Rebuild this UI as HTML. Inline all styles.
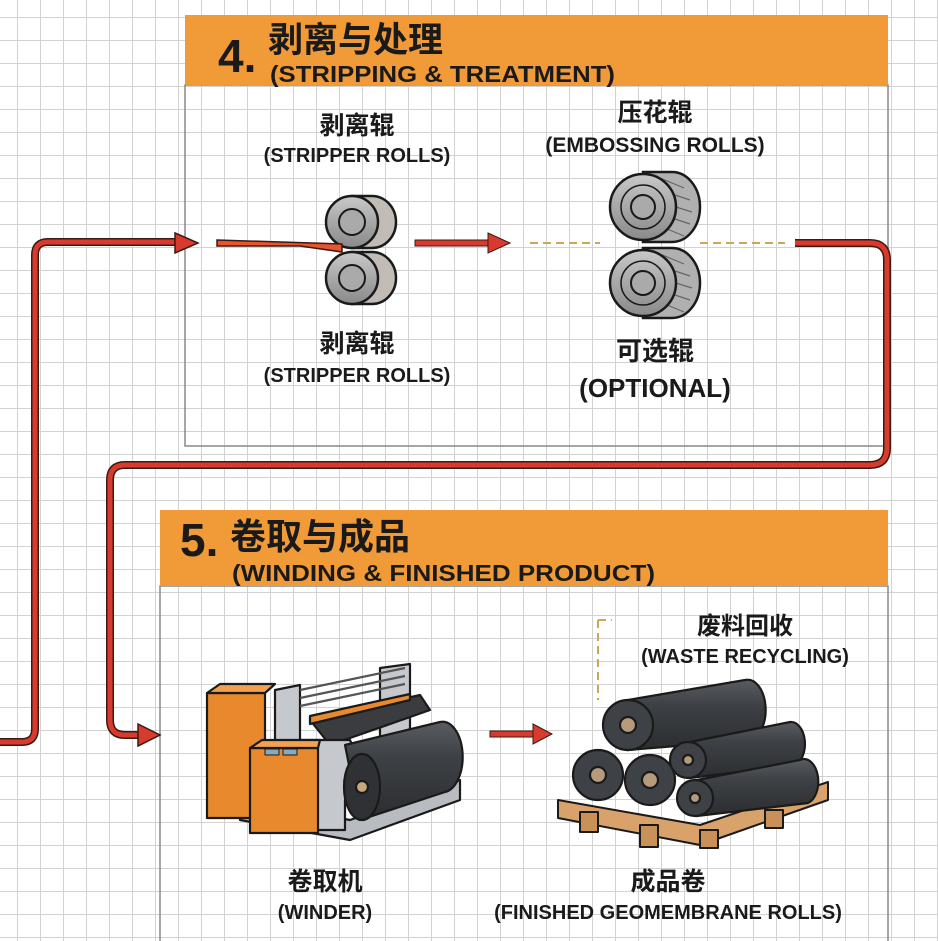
<!DOCTYPE html>
<html><head><meta charset="utf-8"><style>
html,body{margin:0;padding:0;background:#fff;}
svg{display:block}
text{font-family:"Liberation Sans","Noto Sans CJK SC",sans-serif;fill:#1a1a1a;font-weight:bold}
</style></head><body>
<svg width="938" height="941" viewBox="0 0 938 941" xmlns="http://www.w3.org/2000/svg">
<defs>
<pattern id="g" x="17" y="17" width="23" height="23" patternUnits="userSpaceOnUse">
<path d="M0 0H23M0 0V23" stroke="#d2d2d2" stroke-width="2" fill="none"/>
</pattern>
<linearGradient id="metal" x1="0" y1="0" x2="0" y2="1"><stop offset="0" stop-color="#c9c9c9"/><stop offset=".5" stop-color="#a8a8a8"/><stop offset="1" stop-color="#8a8a8a"/></linearGradient>
<linearGradient id="dark" x1="0" y1="0" x2="0" y2="1"><stop offset="0" stop-color="#5a5d60"/><stop offset=".35" stop-color="#3e4145"/><stop offset="1" stop-color="#2b2d30"/></linearGradient>
</defs>
<rect width="938" height="941" fill="#fff"/>
<rect width="938" height="941" fill="url(#g)"/>

<rect x="185" y="85" width="703" height="361" fill="none" stroke="#888" stroke-width="1.5"/>
<rect x="185" y="15" width="703" height="70" fill="#f19a38"/>
<text x="218" y="72" font-size="46">4.</text>
<text x="268" y="52" font-size="35">剥离与处理</text>
<text x="270" y="82" font-size="23" textLength="345" lengthAdjust="spacingAndGlyphs">(STRIPPING &amp; TREATMENT)</text>

<rect x="160" y="586" width="728" height="360" fill="none" stroke="#888" stroke-width="1.5"/>
<rect x="160" y="510" width="728" height="76" fill="#f19a38"/>
<text x="180" y="556" font-size="46">5.</text>
<text x="230" y="549" font-size="36">卷取与成品</text>
<text x="232" y="581" font-size="23" textLength="423" lengthAdjust="spacingAndGlyphs">(WINDING &amp; FINISHED PRODUCT)</text>

<g fill="none" stroke-linejoin="round">
<path d="M0 742 H22 Q35 742 35 729 V255 Q35 242 48 242 H178" stroke="#3a1a14" stroke-width="8"/>
<path d="M0 742 H22 Q35 742 35 729 V255 Q35 242 48 242 H178" stroke="#d93a2e" stroke-width="5"/>
<path d="M795 243 H870 Q887 243 887 260 V448 Q887 465 870 465 H125 Q110 465 110 480 V720 Q110 735 125 735 H140" stroke="#3a1a14" stroke-width="8"/>
<path d="M795 243 H870 Q887 243 887 260 V448 Q887 465 870 465 H125 Q110 465 110 480 V720 Q110 735 125 735 H140" stroke="#d93a2e" stroke-width="5"/>
</g>
<polygon points="175,233 198,243 175,253" fill="#d93a2e" stroke="#3a1a14" stroke-width="1.5"/>
<polygon points="138,724 160,735 138,746" fill="#d93a2e" stroke="#3a1a14" stroke-width="1.5"/>
<rect x="415" y="240" width="75" height="6" fill="#d93a2e" stroke="#3a1a14" stroke-width="1"/>
<polygon points="488,233 510,243 488,253" fill="#d93a2e" stroke="#3a1a14" stroke-width="1"/>
<rect x="490" y="731" width="45" height="6" fill="#d93a2e" stroke="#3a1a14" stroke-width="1"/>
<polygon points="533,724 552,734 533,744" fill="#d93a2e" stroke="#3a1a14" stroke-width="1"/>

<g text-anchor="middle">
<text x="357" y="134" font-size="25">剥离辊</text>
<text x="357" y="162" font-size="20">(STRIPPER ROLLS)</text>
<text x="357" y="352" font-size="25">剥离辊</text>
<text x="357" y="382" font-size="20">(STRIPPER ROLLS)</text>
<text x="655" y="121" font-size="25">压花辊</text>
<text x="655" y="152" font-size="21">(EMBOSSING ROLLS)</text>
<text x="655" y="360" font-size="26">可选辊</text>
<text x="655" y="397" font-size="26">(OPTIONAL)</text>
<text x="745" y="634" font-size="24">废料回收</text>
<text x="745" y="663" font-size="20">(WASTE RECYCLING)</text>
<text x="325" y="890" font-size="25">卷取机</text>
<text x="325" y="919" font-size="20">(WINDER)</text>
<text x="668" y="890" font-size="25">成品卷</text>
<text x="668" y="919" font-size="20">(FINISHED GEOMEMBRANE ROLLS)</text>
</g>

<g stroke="#1a1a1a" stroke-width="2.5">
<path d="M352 196 H372 A24 26 0 0 1 372 248 H352 Z" fill="#c2bcb6"/>
<circle cx="352" cy="222" r="26" fill="url(#metal)"/>
<circle cx="352" cy="222" r="13" fill="#aaa" stroke-width="2"/>
<path d="M352 252 H372 A24 26 0 0 1 372 304 H352 Z" fill="#c2bcb6"/>
<circle cx="352" cy="278" r="26" fill="url(#metal)"/>
<circle cx="352" cy="278" r="13" fill="#aaa" stroke-width="2"/>
</g>
<path d="M217 240 L342 244 L342 252 L300 246 L217 246 Z" fill="#e8542e" stroke="#3a1a14" stroke-width="1.5"/>

<g stroke="#1a1a1a" stroke-width="2.5">
<path d="M643 172 H672 A28 35 0 0 1 672 242 H643 Z" fill="#b0b0b0"/>
<path d="M660 178 L684 188 M660 190 L690 200 M660 202 L692 212 M660 214 L690 224 M660 226 L684 236" stroke="#666" stroke-width="1.2"/>
<circle cx="643" cy="207" r="33" fill="url(#metal)"/>
<circle cx="643" cy="207" r="22" fill="none" stroke-width="1.5"/>
<circle cx="643" cy="207" r="12" fill="#aaa" stroke-width="2"/>
<path d="M643 248 H672 A28 35 0 0 1 672 318 H643 Z" fill="#b0b0b0"/>
<path d="M660 254 L684 264 M660 266 L690 276 M660 278 L692 288 M660 290 L690 300 M660 302 L684 312" stroke="#666" stroke-width="1.2"/>
<circle cx="643" cy="283" r="33" fill="url(#metal)"/>
<circle cx="643" cy="283" r="22" fill="none" stroke-width="1.5"/>
<circle cx="643" cy="283" r="12" fill="#aaa" stroke-width="2"/>
</g>
<g stroke="#c9a85a" stroke-width="2" stroke-dasharray="8 5" fill="none">
<path d="M530 243 H600"/><path d="M700 243 H785"/>
<path d="M598 620 H612 M598 620 V700"/>
</g>

<g stroke="#1a1a1a" stroke-width="2.2" stroke-linejoin="round">
<path d="M240 820 L350 840 L460 800 L460 780 L350 820 L240 800 Z" fill="#b8bcc0"/>
<path d="M275 690 L300 685 L300 800 L275 800 Z" fill="#c5c8cc"/>
<path d="M380 668 L410 664 L410 760 L380 765 Z" fill="#c5c8cc"/>
<path d="M300 690 L405 668 M300 698 L405 676 M300 706 L405 684" stroke="#555" fill="none"/>
<path d="M310 720 L420 695 L430 710 L330 745 Z" fill="#3a3c40"/>
<path d="M310 716 L410 694 L410 700 L310 724 Z" fill="#e8892e"/>
<path d="M300 740 L350 740 Q360 760 345 800 L345 830 L300 830 Z" fill="#c5c8cc"/>
<rect x="207" y="693" width="58" height="125" fill="#e8892e"/>
<path d="M207 693 L220 684 L275 684 L265 693 Z" fill="#f3a050"/>
<rect x="250" y="748" width="68" height="85" fill="#e8892e"/>
<path d="M250 748 L262 740 L320 740 L318 748 Z" fill="#f3a050"/>
<rect x="265" y="749" width="14" height="6" fill="#8ab" stroke-width="1"/>
<rect x="283" y="749" width="14" height="6" fill="#8ab" stroke-width="1"/>
<path d="M345 745 L440 722 A20 35 0 0 1 445 792 L360 820 Z" fill="url(#dark)"/>
<ellipse cx="362" cy="787" rx="18" ry="33" fill="#2f3134"/>
<circle cx="362" cy="787" r="6" fill="#c7a87a"/>
</g>

<g stroke="#1a1a1a" stroke-width="2" stroke-linejoin="round">
<path d="M558 800 L700 825 L828 782 L828 800 L700 845 L558 818 Z" fill="#d9a26b"/>
<rect x="580" y="812" width="18" height="20" fill="#c99058"/>
<rect x="640" y="825" width="18" height="22" fill="#c99058"/>
<rect x="700" y="830" width="18" height="18" fill="#c99058"/>
<rect x="765" y="810" width="18" height="18" fill="#c99058"/>
</g>
<g stroke="#1a1a1a" stroke-width="2.2">
<path d="M628 700 L745 680 A18 30 0 0 1 750 740 L628 750 Z" fill="url(#dark)"/>
<circle cx="628" cy="725" r="25" fill="#3e4145"/><circle cx="628" cy="725" r="8" fill="#b59b7c"/>
<path d="M690 742 L790 722 A14 22 0 0 1 795 765 L690 778 Z" fill="url(#dark)"/>
<path d="M697 780 L800 760 A14 22 0 0 1 808 803 L697 816 Z" fill="url(#dark)"/>
<circle cx="598" cy="775" r="25" fill="#3e4145"/><circle cx="598" cy="775" r="8" fill="#b59b7c"/>
<circle cx="650" cy="780" r="25" fill="#3e4145"/><circle cx="650" cy="780" r="8" fill="#b59b7c"/>
<circle cx="688" cy="760" r="18" fill="#3e4145"/><circle cx="688" cy="760" r="5" fill="#b59b7c"/>
<circle cx="695" cy="798" r="18" fill="#3e4145"/><circle cx="695" cy="798" r="5" fill="#b59b7c"/>
</g>
</svg>
</body></html>
